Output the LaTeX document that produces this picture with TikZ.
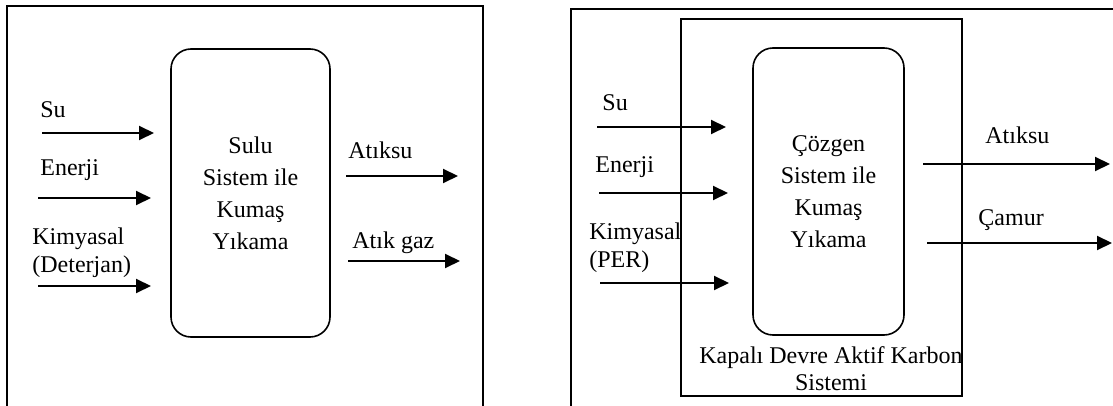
\documentclass[tikz,border=0pt]{standalone}
\usepackage{fontspec}
\setmainfont{Liberation Serif}
\usetikzlibrary{arrows.meta}
\begin{document}
\begin{tikzpicture}[x=0.5pt,y=-0.5pt,
  frame/.style={line width=1pt},
  inner/.style={line width=0.8pt},
  proc/.style={draw,line width=0.8pt,rounded corners=10pt,inner sep=0pt},
  flow/.style={line width=1pt,-{Triangle[length=7.5pt,width=7pt]}},
  lbl/.style={anchor=west,inner sep=0pt,font=\fontsize{12}{14}\selectfont,align=left},
  ctext/.style={inner sep=0pt,align=center,font=\fontsize{12}{16}\selectfont}]
\useasboundingbox (0,0) rectangle (1113,406);
% frames
\draw[frame] (7,410) -- (7,6) -- (483,6) -- (483,410);
\draw[frame] (571,410) -- (571,9) -- (1116,9);
% ---- left panel ----
\node[proc,minimum width=79.5pt,minimum height=144pt] (box1) at (250.5,193) {};
\node[ctext] (t1) at (box1.center) {Sulu\\Sistem ile\\Kumaş\\Yıkama};
\node[lbl] (su1) at (40,110) {Su};
\node[lbl] (en1) at (40,170) {Enerji};
\node[lbl,font=\fontsize{12}{14}\selectfont] (ki1) at (32,253) {Kimyasal\\(Deterjan)};
\node[lbl] (at1) at (348,150) {Atıksu};
\node[lbl] (ag1) at (352,243) {Atık gaz};
\coordinate (a1s) at (42,133); \coordinate (a1e) at (154,133);
\coordinate (a2s) at (38,198); \coordinate (a2e) at (151,198);
\coordinate (a3s) at (38,286); \coordinate (a3e) at (151,286);
\coordinate (a4s) at (346,176); \coordinate (a4e) at (458,176);
\coordinate (a5s) at (348,261); \coordinate (a5e) at (460,261);
\draw[flow] (a1s) -- (a1e);
\draw[flow] (a2s) -- (a2e);
\draw[flow] (a3s) -- (a3e);
\draw[flow] (a4s) -- (a4e);
\draw[flow] (a5s) -- (a5e);
% ---- right panel ----
\node[draw,inner,minimum width=140.5pt,minimum height=188.5pt,inner sep=0pt] (sys) at (821.5,207.5) {};
\node[proc,minimum width=75.5pt,minimum height=143.5pt] (box2) at (828.5,191.5) {};
\node[ctext] (t2) at (box2.center) {Çözgen\\Sistem ile\\Kumaş\\Yıkama};
\node[ctext,font=\fontsize{12}{13.5}\selectfont] (ka) at (831,368.5) {Kapalı Devre Aktif Karbon\\Sistemi};
\node[lbl] (su2) at (602,103) {Su};
\node[lbl] (en2) at (595,167) {Enerji};
\node[lbl] (ki2) at (589,248) {Kimyasal\\(PER)};
\node[lbl] (at2) at (985,135) {Atıksu};
\node[lbl] (ca2) at (978,220) {Çamur};
\coordinate (b1s) at (597,127); \coordinate (b1e) at (726,127);
\coordinate (b2s) at (599,193); \coordinate (b2e) at (728,193);
\coordinate (b3s) at (600,283); \coordinate (b3e) at (729,283);
\coordinate (b4s) at (923,164); \coordinate (b4e) at (1110,164);
\coordinate (b5s) at (927,243); \coordinate (b5e) at (1112,243);
\draw[flow] (b1s) -- (b1e);
\draw[flow] (b2s) -- (b2e);
\draw[flow] (b3s) -- (b3e);
\draw[flow] (b4s) -- (b4e);
\draw[flow] (b5s) -- (b5e);
\end{tikzpicture}
\end{document}
